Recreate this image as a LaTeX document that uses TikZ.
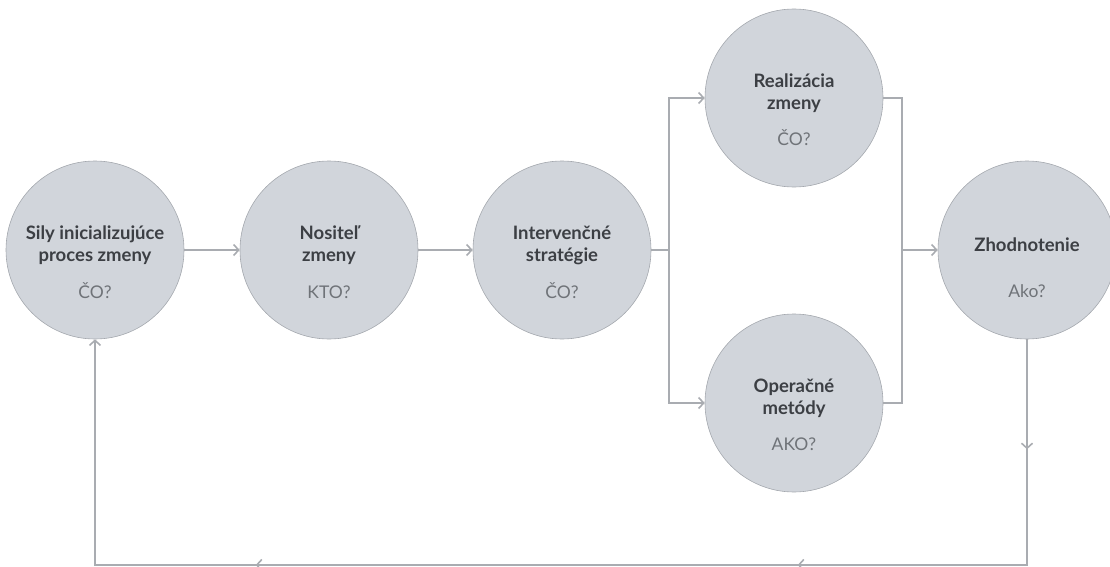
\documentclass[tikz,border=0pt]{standalone}
\usepackage{fontspec}
\setmainfont{Lato}
\usetikzlibrary{arrows.meta,decorations.markings,calc}

\definecolor{discfill}{HTML}{D1D5DB}
\definecolor{discedge}{HTML}{A4A8AE}
\definecolor{linecol}{HTML}{A9ACB1}
\definecolor{titlecol}{HTML}{3C3F44}
\definecolor{askcol}{HTML}{6F7378}

\tikzset{
  disc/.style={circle, minimum size=178pt, inner sep=0pt, fill=discfill,
    draw=discedge, line width=0.6pt},
  title/.style={font=\bfseries\fontsize{18.5}{22}\selectfont, text=titlecol,
    align=center, inner sep=0pt, anchor=center},
  ask/.style={font=\fontsize{17.5}{20}\selectfont, text=askcol,
    inner sep=0pt, anchor=base},
  wire/.style={draw=linecol, line width=1.6pt},
  tipshape/.tip={Straight Barb[length=5pt, width=11pt]},
  link/.style={wire, -tipshape},
}

\begin{document}
\begin{tikzpicture}[x=1pt, y=-1pt]
\useasboundingbox (0,0) rectangle (1110,567);

% stages
\node[disc] (sily) at (95,250) {};
\node[disc] (nos)  at (329,250) {};
\node[disc] (int)  at (562,250) {};
\node[disc] (real) at (794,98) {};
\node[disc] (oper) at (794,403) {};
\node[disc] (zhod) at (1027,250) {};

% stage texts
\node[title] (silyT) at ($(sily)+(0,-5)$) {Sily inicializujúce\\proces zmeny};
\node[ask]   (silyQ) at ($(sily)+(0,48)$) {ČO?};
\node[title] (nosT)  at ($(nos)+(0,-5)$) {Nositeľ\\zmeny};
\node[ask]   (nosQ)  at ($(nos)+(0,48)$) {KTO?};
\node[title] (intT)  at ($(int)+(0,-5)$) {Intervenčné\\stratégie};
\node[ask]   (intQ)  at ($(int)+(0,48)$) {ČO?};
\node[title] (realT) at ($(real)+(0,-5)$) {Realizácia\\zmeny};
\node[ask]   (realQ) at ($(real)+(0,47)$) {ČO?};
\node[title] (operT) at ($(oper)+(0,-5)$) {Operačné\\metódy};
\node[ask]   (operQ) at ($(oper)+(0,47)$) {AKO?};
\node[title] (zhodT) at ($(zhod)+(0,-5)$) {Zhodnotenie};
\node[ask]   (zhodQ) at ($(zhod)+(0,47)$) {Ako?};

% main flow
\draw[link] (sily.east) -- (nos.west);
\draw[link] (nos.east) -- (int.west);

% split into the two branches
\coordinate (fork) at (669,250);
\draw[wire] (int.east) -- (fork);
\draw[link] (fork) |- (real.west);
\draw[link] (fork) |- (oper.west);

% merge of the branches
\coordinate (merge) at (902,250);
\draw[wire] (real.east) -| (merge);
\draw[wire] (oper.east) -| (merge);
\draw[link] (merge) -- (zhod.west);

% feedback loop
\coordinate (loopR) at (1027,565);
\coordinate (loopL) at (95,565);
\draw[link, postaction={decorate}, decoration={markings,
    mark=at position 110pt with {\arrow[linecol, line width=1.6pt]{tipshape}},
    mark=at position 455pt with {\arrow[linecol, line width=1.6pt]{tipshape}},
    mark=at position 997pt with {\arrow[linecol, line width=1.6pt]{tipshape}}}]
  (zhod.south) -- (loopR) -- (loopL) -- (sily.south);
\end{tikzpicture}
\end{document}
